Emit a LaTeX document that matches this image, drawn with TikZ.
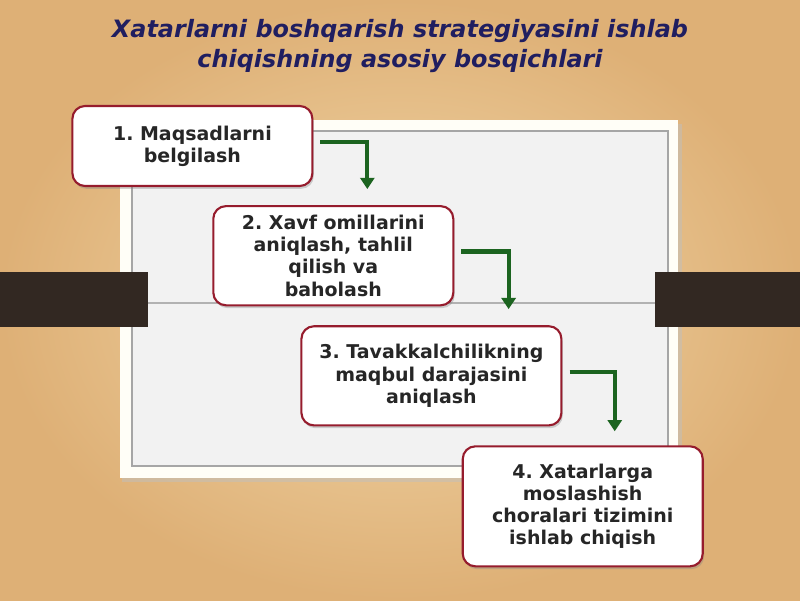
\documentclass[tikz,border=0pt]{standalone}
\usepackage{fontspec}
\setsansfont{DejaVu Sans}
\usetikzlibrary{positioning, arrows.meta, shadows}
\definecolor{boxred}{RGB}{150,28,45}
\definecolor{arrowgreen}{RGB}{28,100,32}
\definecolor{titleblue}{RGB}{32,30,96}
\definecolor{barbrown}{RGB}{50,40,34}

\begin{document}
\frenchspacing
\begin{tikzpicture}[
    stepbox/.style={draw=boxred, line width=1.5pt, rounded corners=9pt, fill=white, align=center,
      font=\sffamily\bfseries\fontsize{13.5}{15.8}\selectfont, text=black!85,
      drop shadow={shadow xshift=1pt, shadow yshift=-2pt, opacity=0.35}},
    flow/.style={arrowgreen, line width=2.9pt, -{Triangle[width=10pt, length=8pt]}}
  ]
  \useasboundingbox (0,0) rectangle (20,15);
  \shade[inner color={rgb,255:red,242;green,216;blue,170}, outer color={rgb,255:red,222;green,176;blue,118}] (0,0) rectangle (20,15);

  \fill[black!25, opacity=0.5] (3.05,2.95) rectangle (17.05,11.9);
  \fill[black!2!yellow!3!white] (3,3.05) rectangle (16.95,12);
  \draw[black!35, line width=1pt, fill=black!5] (3.3,3.35) rectangle (16.7,11.72);
  \draw[black!30, line width=1pt] (3.6,7.42) -- (16.4,7.42);
  \fill[barbrown] (0,6.83) rectangle (3.7,8.2);
  \fill[barbrown] (16.38,6.83) rectangle (20,8.2);

  \node[font=\sffamily\bfseries\itshape\fontsize{17}{21}\selectfont, text=titleblue, align=center] (title) at (10,13.85)
    {Xatarlarni boshqarish strategiyasini ishlab\\chiqishning asosiy bosqichlari};

  \node[stepbox, minimum width=6cm, minimum height=2cm] (b1) at (4.81,11.35) {1. Maqsadlarni\\belgilash};
  \node[stepbox, minimum width=6cm, minimum height=2.48cm, below right=0.45cm and -2.53cm of b1] (b2) {2. Xavf omillarini\\aniqlash, tahlil\\qilish va\\baholash};
  \node[stepbox, minimum width=6.5cm, minimum height=2.48cm, below right=0.47cm and -3.85cm of b2] (b3) {3. Tavakkalchilikning\\maqbul darajasini\\aniqlash};
  \node[stepbox, minimum width=6cm, minimum height=3cm, below right=0.47cm and -2.52cm of b3] (b4) {4. Xatarlarga\\moslashish\\choralari tizimini\\ishlab chiqish};

  \draw[flow] ([xshift=5pt, yshift=3pt]b1.east) -| ([xshift=0.85cm, yshift=0.4cm]b2.north);
  \draw[flow] ([xshift=5pt, yshift=3pt]b2.east) -| ([xshift=1.93cm, yshift=0.4cm]b3.north);
  \draw[flow] ([xshift=5pt, yshift=3pt]b3.east) -| ([xshift=0.8cm, yshift=0.35cm]b4.north);
\end{tikzpicture}
\end{document}
